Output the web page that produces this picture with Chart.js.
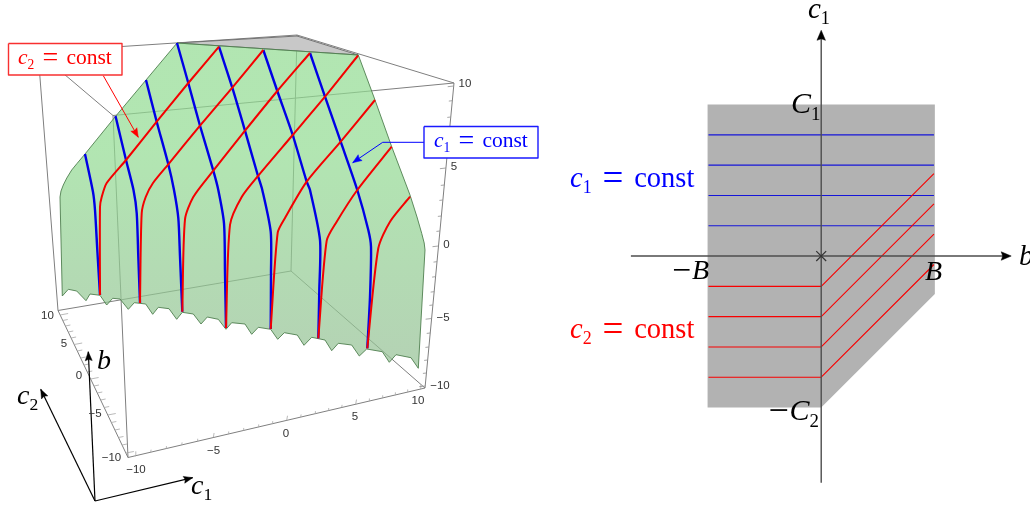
<!DOCTYPE html>
<html>
<head>
<meta charset="utf-8">
<script src="https://cdn.jsdelivr.net/npm/chart.js@4/dist/chart.umd.min.js"></script>
<style>
  html, body { margin: 0; padding: 0; background: #fff; }
  canvas { display: block; }
</style>
</head>
<body>
<canvas id="chart" width="1030" height="506"></canvas>
<script>
// Left panel: 3D box
const boxEdges = [
    [[38, 52], [297, 35]],
    [[297, 35], [454, 83]],
    [[454, 83], [113, 115.5]],
    [[113, 115.5], [38, 52]],
    [[38, 52], [58, 310.5]],
    [[113, 115.5], [128, 457.5]],
    [[454, 83], [425, 388]],
    [[297, 35], [291, 271]],
    [[58, 310.5], [291, 271]],
    [[291, 271], [425, 388]],
    [[58, 310.5], [128, 457.5]],
    [[128, 457.5], [425, 388]]
];

const surfaceOutline = [
    [177, 43], [146, 80], [115, 117], [85, 154], [77, 163.5], [71.7, 170], [66.8, 178], [63.3, 185], [61, 191], [60, 197],
    [62.3, 296], [68.3, 289.3], [76.7, 291], [86, 300.7], [90, 294], [100, 295.3],
    [106.7, 305], [112.7, 298.3], [120, 299], [128.3, 309.3], [134.3, 302.7], [145.7, 304],
    [152.7, 314.3], [158.3, 307.3], [169, 308.7], [176.7, 319.3], [182.3, 312.3], [193.3, 314],
    [201, 324], [207.3, 317], [218.3, 319.3], [226, 329.3], [231.7, 322.7], [245, 324],
    [251.7, 334.3], [258.3, 327.3], [270.7, 329.3], [277.7, 339.3], [284.3, 332.7], [297.3, 335],
    [304, 345.3], [311.7, 337.3], [325, 340], [331.7, 350.7], [338.3, 343.3], [351.7, 345],
    [359.3, 356], [366.7, 349], [382.3, 351.7], [389.3, 362.3], [396, 354.7], [411, 357.7],
    [418.3, 368.3], [425, 250], [424.2, 243], [421.7, 233.3], [417, 217], [410, 195], [391.7, 146.7], [375, 100],
    [358.3, 55], [177, 43]
];
const topPatch = [[177, 43], [297, 36], [358.3, 55], [177, 43]];

// c1 = const curves on the surface
const blue1 = [[85, 154], [93, 192], [95, 210], [97.3, 250], [100, 295]];
const blue2 = [[115.5, 116], [126, 160], [133.5, 190], [136.7, 213], [138.3, 256.7], [140, 303]];
const blue3 = [[146, 80], [156.7, 121.7], [168.3, 164.3], [174, 190], [178.3, 218], [180, 256.7], [182.3, 311.7]];
const blue4 = [[177, 43], [188.3, 83], [200, 125.7], [213.3, 170.7], [218.3, 190], [224, 223.3], [225, 273], [226, 328]];
const blue5 = [[219, 46.7], [232.3, 87.7], [245, 130.7], [258, 176], [262.3, 190], [270.7, 231.7], [271, 273], [270.7, 329]];
const blue6 = [[263.3, 50], [277.3, 91], [292.7, 135], [306.7, 181.7], [310, 190], [320, 240], [319.3, 290], [318.3, 338.3]];
const blue7 = [[310, 53], [325, 96.7], [340.7, 141.7], [357.3, 190], [368.3, 230], [371, 246.7], [370, 296.7], [367.3, 348.3]];

// c2 = const curves on the surface
const red1 = [[100, 295], [100, 207], [101.7, 197], [106.7, 183], [126, 160], [156.7, 121.7], [188.3, 83], [219, 46.7]];
const red2 = [[140, 303], [141.7, 213.3], [145.7, 197], [153, 183], [168.3, 164.3], [200, 125.7], [232.3, 87.7], [263.3, 50]];
const red3 = [[182.3, 311.7], [185, 219.3], [193.3, 197], [213.3, 170.7], [245, 130.7], [277.3, 91], [310, 53]];
const red4 = [[226, 328], [230, 225], [241.7, 197], [258, 176], [292.7, 135], [325, 96.7], [358, 55.5]];
const red5 = [[270.7, 329], [277.7, 232.7], [285, 218], [306.7, 181.7], [340.7, 141.7], [375, 100]];
const red6 = [[318.3, 338.3], [326.7, 240.7], [336.7, 221.7], [357.3, 190], [391.7, 146.7]];
const red7 = [[367.3, 348.3], [378.3, 248.3], [390, 221.7], [410, 196.7]];

// tick positions for values -10..10 along the three visible box axes
const bottomTickX = [135, 150.7, 166, 181.7, 197.3, 213.3, 228.3, 243.3, 258.3, 272.3, 286.7, 300.7, 315, 328.3, 341.7, 355.7, 369, 382.3, 395, 407.3, 420];
const diagTickY = [453, 445, 437.5, 430, 422.5, 415, 407.5, 400, 393, 386, 379, 372, 365, 358, 351, 344.5, 338, 332, 326, 320.5, 315];
const rightTickY = [386, 373, 360, 347, 333, 318.5, 305, 291.7, 276.7, 261.7, 246, 231, 216, 200, 185, 168, 151, 134, 117, 100.7, 86];

const tickLabels = ['\u221210', '\u22125', '0', '5', '10'];
const bottomLabelPos = [[136, 469.5], [213.5, 451], [286, 433.5], [355, 417], [418, 400.5]];
const diagLabelPos = [[111.5, 457.5], [95, 413.5], [79, 376], [64, 343.5], [47.5, 315.5]];
const rightLabelPos = [[440, 386], [443, 318], [446.5, 244.5], [454, 167], [465, 83.5]];

// Right panel, in its own b / c units
const regionBounds = [[-3.75, 5], [3.75, 5], [3.75, -1.25], [0, -5], [-3.75, -5], [-3.75, 5]];
const c1Levels = [1, 2, 3, 4];
const c2Levels = [-1, -2, -3, -4];
const bEdge = 3.72;

const BLUE = '#0000ff';
const RED = '#ff0000';
const SERIF = '"Liberation Serif", serif';

const datasets = [];

function pts(list) {
    return list.map(p => ({ x: p[0], y: p[1] }));
}

// painted in the order they are added
function addLine(list, color, width, extra) {
    datasets.push(Object.assign({
        data: pts(list),
        showLine: true,
        borderColor: color,
        borderWidth: width,
        pointRadius: 0,
        tension: 0,
        fill: false,
        clip: false,
        borderJoinStyle: 'round',
        order: 1000 - datasets.length
    }, extra || {}));
}

function addShape(list, fillColor, lineColor, width, extra) {
    addLine(list, lineColor, width, Object.assign({ fill: 'shape', backgroundColor: fillColor }, extra || {}));
}

function arrowHead(tail, tip, len, hw) {
    const dx = tip[0] - tail[0];
    const dy = tip[1] - tail[1];
    const d = Math.hypot(dx, dy);
    const ux = dx / d;
    const uy = dy / d;
    return [
        tip,
        [tip[0] - ux * len - uy * hw, tip[1] - uy * len + ux * hw],
        [tip[0] - ux * len * 0.85, tip[1] - uy * len * 0.85],
        [tip[0] - ux * len + uy * hw, tip[1] - uy * len - ux * hw],
        tip
    ];
}

function addArrow(path, color, width, len, hw, extra) {
    addLine(path, color, width, extra);
    const n = path.length;
    addShape(arrowHead(path[n - 2], path[n - 1], len, hw), color, color, 0.5, extra);
}

function tickSegments(positions, pointAt, minorDir, majorDir) {
    const out = [];
    positions.forEach((pos, i) => {
        const p = pointAt(pos);
        const dir = (i % 5 === 0) ? majorDir : minorDir;
        out.push(p, [p[0] + dir[0], p[1] + dir[1]], [NaN, NaN]);
    });
    return out;
}

// --- left panel ---
const EDGE = '#7f7f7f';
boxEdges.forEach(e => addLine(e, EDGE, 1));

const TICK = '#a8a8a8';
addLine(tickSegments(bottomTickX, x => [x, 457.5 - (x - 128) * 0.2347], [0.4, -2.5], [0.8, -4.5]), TICK, 0.8);
addLine(tickSegments(diagTickY, y => [58 + (y - 310.5) * 0.4762, y], [5, -1], [8, -1.5]), TICK, 0.8);
addLine(tickSegments(rightTickY, y => [454 - (y - 83) * 0.0951, y], [-3.5, 0.4], [-6, 0.7]), '#909090', 0.8);

addShape(topPatch, '#c8c8c8', '#666666', 0.9);

// vertical gradient, translucent so that the box shows through
addShape(surfaceOutline, function (ctx) {
    const chart = ctx.chart;
    const top = chart.scales.y ? chart.scales.y.getPixelForValue(150) : NaN;
    const bottom = chart.scales.y ? chart.scales.y.getPixelForValue(350) : NaN;
    if (!Number.isFinite(top) || !Number.isFinite(bottom)) return 'rgba(145,219,145,0.7)';
    const g = chart.ctx.createLinearGradient(0, top, 0, bottom);
    g.addColorStop(0, 'rgba(145,219,145,0.7)');
    g.addColorStop(1, 'rgba(148,193,148,0.7)');
    return g;
}, '#4f7f4f', 0.9);

[blue1, blue2, blue3, blue4, blue5, blue6, blue7].forEach(c => addLine(c, '#0000e6', 2.4, { tension: 0.25 }));
[red1, red2, red3, red4, red5, red6, red7].forEach(c => addLine(c, '#f40000', 2, { tension: 0.25 }));

// call-outs
addArrow([[103.3, 75.7], [138.3, 137.3]], RED, 1, 9, 3.5);
addArrow([[424, 142.3], [382.7, 142.3], [352.7, 162.7]], BLUE, 1, 9, 3.5);
addShape([[8.5, 43.5], [122, 43.5], [122, 75], [8.5, 75], [8.5, 43.5]], '#ffffff', '#f83030', 1.4);
addShape([[424, 126.5], [538, 126.5], [538, 158], [424, 158], [424, 126.5]], '#ffffff', '#1a1aff', 1.4);

// little axis triad
const triadOrigin = [95, 501];
addArrow([triadOrigin, [192.7, 477.7]], '#000000', 1.2, 9, 3.5);
addArrow([triadOrigin, [88.3, 351.7]], '#000000', 1.2, 9, 3.5);
addArrow([triadOrigin, [40.7, 389.3]], '#000000', 1.2, 9, 3.5);

// --- right panel ---
const onRight = { xAxisID: 'xB', yAxisID: 'yC' };
addShape(regionBounds, '#b2b2b2', '#b2b2b2', 0, onRight);
c1Levels.forEach(c => addLine([[-bEdge, c], [bEdge, c]], '#1414d8', 1.1, onRight));
c2Levels.forEach(c => addLine([[-bEdge, c], [0, c], [bEdge, c + bEdge]], '#f80000', 1.1, onRight));

const AXIS = '#4d4d4d';
addLine([[-6.28, 0], [6.0, 0]], AXIS, 1.4, onRight);
addLine([[0, -7.48], [0, 7.2]], AXIS, 1.4, onRight);
addShape(arrowHead([0, 0], [6.27, 0], 0.33, 0.14), '#000000', '#000000', 0.5, onRight);
addShape(arrowHead([0, 0], [0, 7.45], 0.33, 0.14), '#000000', '#000000', 0.5, onRight);
addLine([[0, 0]], '#333333', 0, Object.assign({ pointStyle: 'crossRot', pointRadius: 7, pointBorderWidth: 1.2, pointBorderColor: '#333333' }, onRight));

// --- text ---
function mathRuns(parts, size) {
    return parts.map(p => {
        if (p[1] === 'sub') return { t: p[0], font: `${size * 0.63}px ${SERIF}`, dy: size * 0.22, gap: 0 };
        if (p[1] === 'it') return { t: p[0], font: `italic ${size}px ${SERIF}`, dy: 0, gap: 0 };
        if (p[1] === 'eq') return { t: p[0], font: `${size * 1.3}px ${SERIF}`, dy: size * 0.09, gap: size * 0.38 };
        if (p[1] === 'neg') return { t: p[0], font: `${size * 1.2}px ${SERIF}`, dy: size * 0.06, gap: size * 0.02 };
        return { t: p[0], font: `${size}px ${SERIF}`, dy: 0, gap: 0 };
    });
}

const c2Const = [['c', 'it'], ['2', 'sub'], ['=', 'eq'], ['const', '']];
const c1Const = [['c', 'it'], ['1', 'sub'], ['=', 'eq'], ['const', '']];

const mathLabels = [
    { x: 18, y: 64, size: 21.5, color: RED, parts: c2Const },
    { x: 434, y: 147, size: 21.5, color: BLUE, parts: c1Const },
    { x: 97, y: 369, size: 28, color: '#000', parts: [['b', 'it']] },
    { x: 17, y: 404, size: 28, color: '#000', parts: [['c', 'it'], ['2', 'sub']] },
    { x: 191, y: 494, size: 28, color: '#000', parts: [['c', 'it'], ['1', 'sub']] },
    { x: 808, y: 18, size: 29, color: '#000', parts: [['c', 'it'], ['1', 'sub']] },
    { x: 791, y: 113, size: 30, color: '#000', parts: [['C', 'it'], ['1', 'sub']] },
    { x: 1019, y: 265, size: 29, color: '#000', parts: [['b', 'it']] },
    { x: 672, y: 279, size: 28, color: '#000', parts: [['\u2212', 'neg'], ['B', 'it']] },
    { x: 925, y: 280, size: 28, color: '#000', parts: [['B', 'it']] },
    { x: 768, y: 420, size: 30, color: '#000', parts: [['\u2212', 'neg'], ['C', 'it'], ['2', 'sub']] },
    { x: 570, y: 187, size: 28.5, color: BLUE, parts: c1Const },
    { x: 570, y: 338, size: 28.5, color: RED, parts: c2Const }
];

const textPlugin = {
    id: 'panelText',
    afterDatasetsDraw(chart) {
        const ctx = chart.ctx;
        const xs = chart.scales.x;
        const ys = chart.scales.y;
        ctx.save();

        ctx.font = '11.5px "Liberation Sans", sans-serif';
        ctx.fillStyle = '#333333';
        ctx.textAlign = 'center';
        ctx.textBaseline = 'middle';
        [bottomLabelPos, diagLabelPos, rightLabelPos].forEach(list => {
            list.forEach((p, i) => {
                ctx.fillText(tickLabels[i], xs.getPixelForValue(p[0]), ys.getPixelForValue(p[1]));
            });
        });

        ctx.textAlign = 'left';
        ctx.textBaseline = 'alphabetic';
        mathLabels.forEach(l => {
            let px = xs.getPixelForValue(l.x);
            const py = ys.getPixelForValue(l.y);
            ctx.fillStyle = l.color;
            mathRuns(l.parts, l.size).forEach(r => {
                ctx.font = r.font;
                px += r.gap;
                ctx.fillText(r.t, px, py + r.dy);
                px += ctx.measureText(r.t).width + r.gap;
            });
        });
        ctx.restore();
    }
};

new Chart(document.getElementById('chart').getContext('2d'), {
    type: 'scatter',
    data: { datasets: datasets },
    plugins: [textPlugin],
    options: {
        responsive: false,
        animation: false,
        layout: { padding: 0, autoPadding: false },
        plugins: { legend: { display: false }, tooltip: { enabled: false } },
        scales: {
            x: { type: 'linear', display: false, min: 0, max: 1030 },
            y: { type: 'linear', display: false, min: 0, max: 506, reverse: true },
            xB: { type: 'linear', axis: 'x', display: false, min: -27.1, max: 6.89 },
            yC: { type: 'linear', axis: 'y', display: false, min: -8.25, max: 8.45 }
        }
    }
});
</script>
</body>
</html>
